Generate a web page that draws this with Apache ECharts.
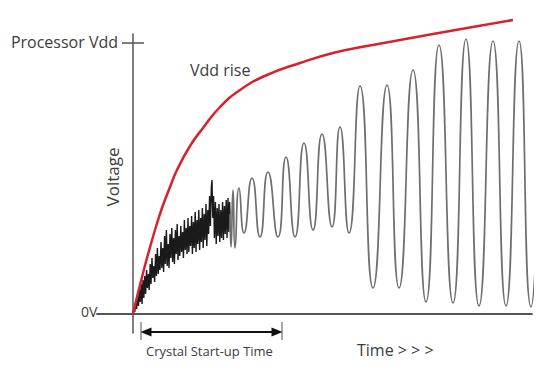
<!DOCTYPE html>
<html>
<head>
<meta charset="utf-8">
<script src="https://cdn.jsdelivr.net/npm/echarts@6/dist/echarts.min.js"></script>
<style>html,body{margin:0;padding:0;background:#fff}#c{width:560px;height:370px}</style>
</head>
<body>
<div id="c"></div>
<script>
// Time in arbitrary units (t), voltage in arbitrary units (v); Vdd level at 271
const vddLevel = 271;
const yTickLabels = ['0V', 'Processor Vdd'];
const vddRise = [[0,0],[4,17],[8,33],[14,56],[22,84],[29,106],[37,127],[44,144],[57,168],[70,186],[87,207],[107,224],[134,239],[167,251],[200,261],[234,268],[267,274],[300,280],[334,286],[380,294]];
const startupNoise = [[0,0],[1,7],[1.8,2],[2.8,14],[3.6,5],[4.6,19],[5.4,8],[6.4,24],[7.2,12],[8.2,30],[9,10],[10,34],[10.8,16],[11.8,38],[12.6,20],[13.6,44],[14.4,26],[15.4,40],[16.2,24],[17.2,50],[18,30],[19,56],[19.8,36],[20.8,48],[21.6,32],[22.6,60],[23.4,38],[24.4,66],[25.2,40],[26.2,58],[27,44],[28,72],[28.8,46],[29.8,66],[30.6,42],[31.6,78],[32.4,50],[33.4,84],[34.2,48],[35.2,70],[36,46],[37,80],[37.8,56],[38.8,86],[39.6,52],[40.6,76],[41.4,50],[42.4,84],[43.2,60],[44.2,90],[45,54],[46,78],[46.8,58],[47.8,88],[48.6,62],[49.6,82],[50.4,56],[51.4,94],[52.2,64],[53.2,86],[54,60],[55,96],[55.8,62],[56.8,88],[57.6,68],[58.6,98],[59.4,60],[60.4,92],[61.2,66],[62.2,102],[63,62],[64,94],[64.8,70],[65.8,104],[66.6,64],[67.6,96],[68.4,72],[69.4,106],[70.2,66],[71.2,100],[72,74],[73,110],[73.8,68],[74.8,104],[75.6,80],[76.6,118],[77.4,88],[78.4,128],[79,134],[79.8,96],[80.6,118],[81.4,76],[82.4,112],[83.2,70],[84.2,106],[85,78],[86,110],[86.8,72],[87.8,104],[88.6,76],[89.6,112],[90.4,74],[91.4,108],[92.2,80],[93.2,114],[94,76],[95,116],[95.8,82],[96.6,112],[97,100]];
const oscillation = [[97,100],[98,67],[100,124],[102,66],[106,126],[111,81],[119,136],[127,77],[135,142],[145,77],[153,157],[162,77],[171,171],[180,84],[189,180],[199,87],[207,187],[216,81],[227,228],[240,26],[254,229],[266,26],[280,244],[293,12],[306,269],[320,11],[333,275],[346,8],[360,273],[373,8],[386,273],[398,7],[406,141]];
const startupSpan = [8, 149];
const spanBar = [-8, -26];
const spanArrowLevel = -18;

const chart = echarts.init(document.getElementById('c'), null, {renderer: 'svg'});
const axisColor = '#555';
const txt = '#3c3c3c';
chart.setOption({
  animation: false,
  backgroundColor: '#fff',
  grid: {left: 97, right: 28, top: 34, bottom: 37},
  xAxis: {type: 'value', min: -36, max: 399, splitLine: {show: false},
    axisLine: {onZero: true, lineStyle: {color: axisColor, width: 1.8}},
    axisTick: {show: false}, axisLabel: {show: false}},
  yAxis: {type: 'value', min: -19, max: 280, splitLine: {show: false},
    axisLine: {show: true, onZero: true, lineStyle: {color: axisColor, width: 1.5}},
    axisTick: {show: false}, axisLabel: {show: false}},
  graphic: [
    {type: 'text', right: 560 - 118, top: 34, style: {text: yTickLabels[1], font: '16px "Open Sans"', fill: txt}},
    {type: 'text', left: 81, top: 304, style: {text: yTickLabels[0], font: '14px "Open Sans"', fill: txt}},
    {type: 'text', x: 112, y: 177, rotation: Math.PI / 2, style: {text: 'Voltage', font: '17px "Open Sans"', fill: txt, align: 'center', verticalAlign: 'middle'}},
    {type: 'text', left: 190, top: 62, style: {text: 'Vdd rise', font: '16px "Open Sans"', fill: txt}},
    {type: 'text', left: 146, top: 344, style: {text: 'Crystal Start-up Time', font: '13px "Open Sans"', fill: txt}},
    {type: 'text', left: 357, top: 342, style: {text: 'Time > > >', font: '16px "Open Sans"', fill: txt}}
  ],
  series: [
    {type: 'line', data: vddRise, smooth: true, symbol: 'none', clip: false,
      lineStyle: {color: '#d6232b', width: 2.5}, z: 5},
    {type: 'line', data: startupNoise, symbol: 'none', clip: false,
      lineStyle: {color: '#1a1a1a', width: 1.4}, z: 3},
    {type: 'line', data: oscillation, smooth: 0.6, symbol: 'none', clip: false,
      lineStyle: {color: '#6e6e6e', width: 1.7}, z: 3},
    {type: 'line', data: [[-11, vddLevel], [11, vddLevel]], symbol: 'none', clip: false,
      lineStyle: {color: axisColor, width: 1.5}},
    {type: 'line', data: [[startupSpan[0], spanBar[0]], [startupSpan[0], spanBar[1]]], symbol: 'none', clip: false,
      lineStyle: {color: '#8a8a8a', width: 1.5}},
    {type: 'line', data: [[startupSpan[1], spanBar[0]], [startupSpan[1], spanBar[1]]], symbol: 'none', clip: false,
      lineStyle: {color: '#8a8a8a', width: 1.5}},
    {type: 'line', data: [], clip: false, symbol: 'none',
      markLine: {silent: true, animation: false, label: {show: false},
        symbol: ['triangle', 'triangle'], symbolSize: [9, 11],
        data: [
          [{coord: [startupSpan[0] + 5, spanArrowLevel]}, {coord: [startupSpan[1] - 5, spanArrowLevel]}]
        ],
        lineStyle: {color: '#111', width: 2, type: 'solid'}}}
  ]
});
</script>
</body>
</html>
